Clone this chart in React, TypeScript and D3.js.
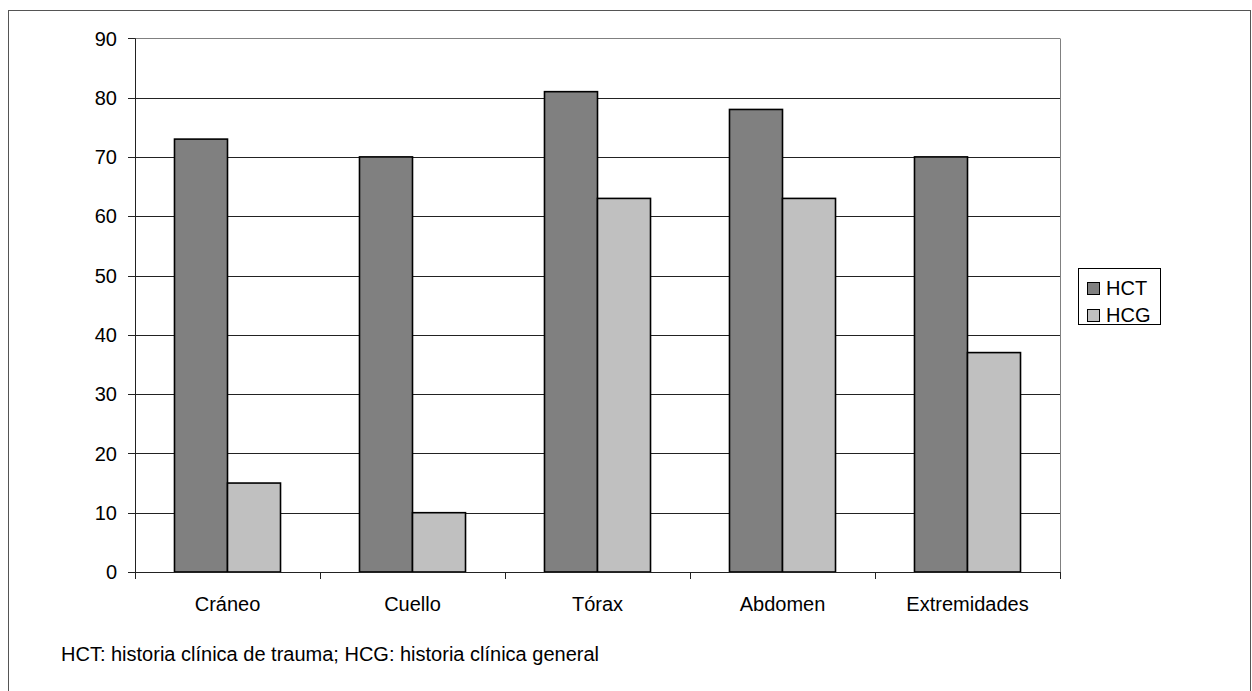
import React from "react";
import * as d3 from "d3";

const categories = ["Cráneo", "Cuello", "Tórax", "Abdomen", "Extremidades"];
const seriesNames = ["HCT", "HCG"];
const hctValues = [73, 70, 81, 78, 70];
const hcgValues = [15, 10, 63, 63, 37];
const yTicks = [0, 10, 20, 30, 40, 50, 60, 70, 80, 90];
const footnote = "HCT: historia clínica de trauma; HCG: historia clínica general";

const colors = ["#808080", "#c0c0c0"];

export default function App() {
  const W = 1252;
  const H = 691;
  const left = 135;
  const right = 1060;
  const top = 38.3;
  const bottom = 572;
  const font = "'Liberation Sans', Arial, sans-serif";
  const fs = 20;

  const x = d3.scaleBand<string>().domain(categories).range([left, right]).paddingInner(0).paddingOuter(0);
  const inner = d3
    .scaleBand<string>()
    .domain(seriesNames)
    .range([0, x.bandwidth()])
    .paddingOuter(0.745)
    .paddingInner(0);
  const y = d3.scaleLinear().domain([0, 90]).range([bottom, top]);

  const series = [hctValues, hcgValues];
  const crisp = (v: number) => Math.round(v) + 0.5;

  return (
    <svg
      width={W}
      height={H}
      style={{ position: "absolute", left: 0, top: 0, background: "#fff" }}
      fontFamily={font}
    >
      <rect x={8.5} y={10.5} width={1242} height={720} fill="#fff" stroke="#555" strokeWidth={1} />
      {yTicks.map((t) => (
        <line
          key={"g" + t}
          x1={left}
          x2={right}
          y1={crisp(y(t))}
          y2={crisp(y(t))}
          stroke={t === 90 ? "#808080" : "#222"}
          strokeWidth={1}
        />
      ))}
      <line x1={crisp(right)} x2={crisp(right)} y1={crisp(top)} y2={crisp(bottom)} stroke="#808080" />
      {categories.map((c, i) =>
        series.map((vals, s) => {
          const bx = (x(c) as number) + (inner(seriesNames[s]) as number);
          const by = y(vals[i]);
          return (
            <rect
              key={c + s}
              x={bx}
              y={by}
              width={inner.bandwidth()}
              height={bottom - by}
              fill={colors[s]}
              stroke="#000"
              strokeWidth={1.6}
            />
          );
        })
      )}
      <line x1={crisp(left)} x2={crisp(left)} y1={top} y2={bottom + 7} stroke="#222" />
      <line x1={left - 7} x2={right} y1={crisp(bottom)} y2={crisp(bottom)} stroke="#222" />
      {yTicks.map((t) => (
        <g key={"yt" + t}>
          <line x1={left - 7} x2={left} y1={crisp(y(t))} y2={crisp(y(t))} stroke="#222" />
          <text x={117} y={y(t)} dy="0.36em" textAnchor="end" fontSize={fs} fill="#000">
            {t}
          </text>
        </g>
      ))}
      {categories.map((c) => (
        <line
          key={"xt" + c}
          x1={crisp((x(c) as number) + x.bandwidth())}
          x2={crisp((x(c) as number) + x.bandwidth())}
          y1={bottom}
          y2={bottom + 7}
          stroke="#222"
        />
      ))}
      {categories.map((c) => (
        <text
          key={"xl" + c}
          x={(x(c) as number) + x.bandwidth() / 2}
          y={611}
          textAnchor="middle"
          fontSize={fs}
          fill="#000"
        >
          {c}
        </text>
      ))}
      <rect x={1078.5} y={268.5} width={82} height={56} fill="#fff" stroke="#000" />
      {seriesNames.map((n, s) => (
        <g key={"lg" + n}>
          <rect x={1087.5} y={282.5 + s * 27} width={12} height={12} fill={colors[s]} stroke="#000" />
          <text x={1106} y={295 + s * 27} fontSize={fs} fill="#000">
            {n}
          </text>
        </g>
      ))}
      <text x={61} y={661} fontSize={fs} fill="#000">
        {footnote}
      </text>
    </svg>
  );
}
